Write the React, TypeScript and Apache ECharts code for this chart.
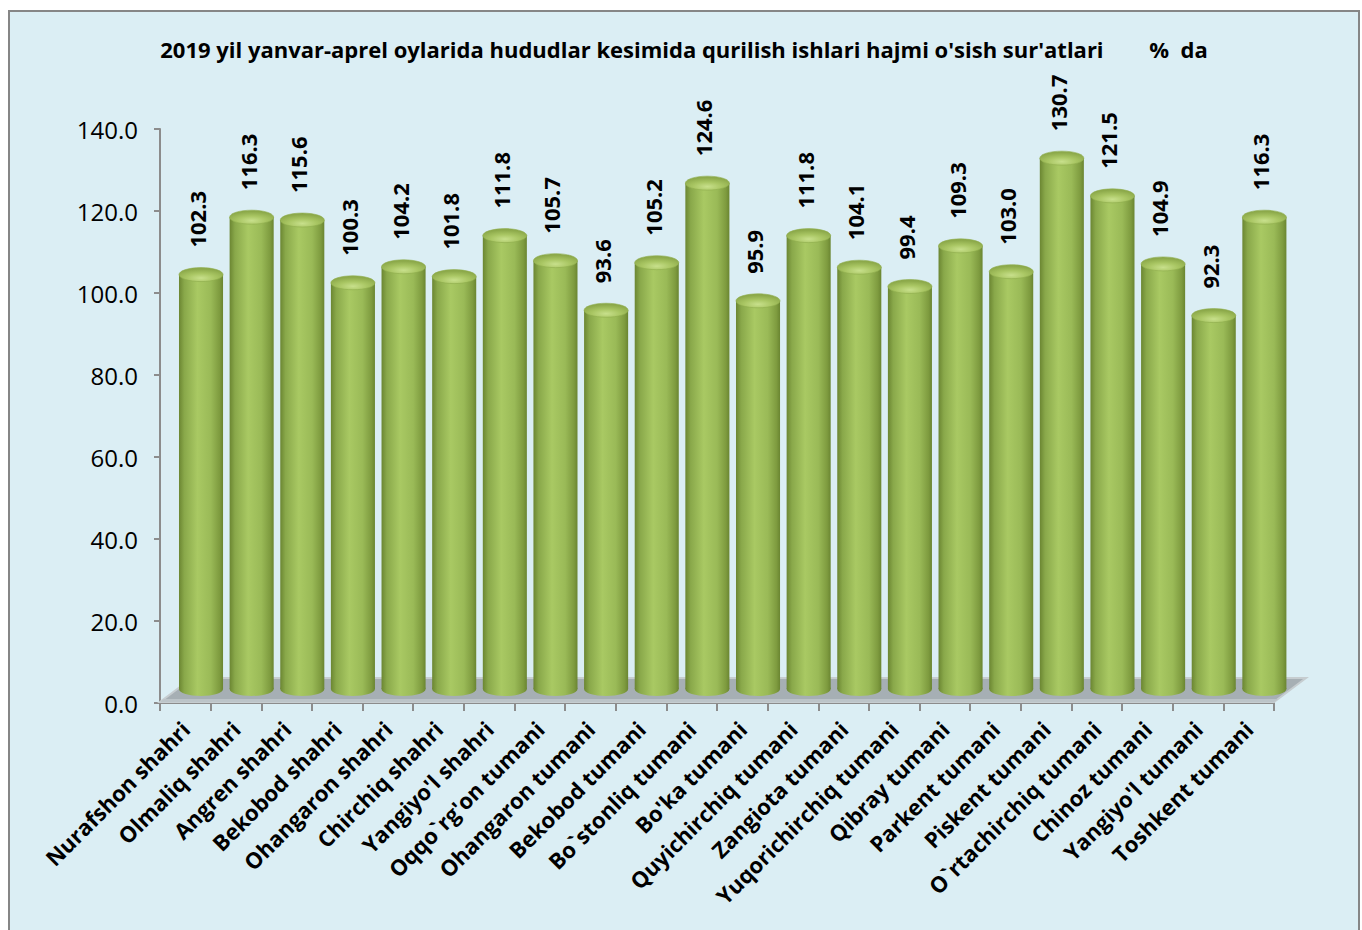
import React, { useEffect, useRef } from "react";
import * as echarts from "echarts";

const categories = [
  "Nurafshon shahri",
  "Olmaliq shahri",
  "Angren shahri",
  "Bekobod shahri",
  "Ohangaron shahri",
  "Chirchiq shahri",
  "Yangiyo'l shahri",
  "Oqqo`rg'on tumani",
  "Ohangaron tumani",
  "Bekobod tumani",
  "Bo`stonliq tumani",
  "Bo'ka tumani",
  "Quyichirchiq tumani",
  "Zangiota tumani",
  "Yuqorichirchiq tumani",
  "Qibray tumani",
  "Parkent tumani",
  "Piskent tumani",
  "O`rtachirchiq tumani",
  "Chinoz tumani",
  "Yangiyo'l tumani",
  "Toshkent tumani",
];

const values = [
  102.3, 116.3, 115.6, 100.3, 104.2, 101.8, 111.8, 105.7, 93.6, 105.2, 124.6,
  95.9, 111.8, 104.1, 99.4, 109.3, 103.0, 130.7, 121.5, 104.9, 92.3, 116.3,
];

const titleText =
  "2019 yil yanvar-aprel oylarida hududlar kesimida qurilish ishlari hajmi o'sish sur'atlari        %  da";

const FONT = "'Open Sans', 'Liberation Sans', sans-serif";

export default function App() {
  const ref = useRef<HTMLDivElement>(null);

  useEffect(() => {
    if (!ref.current) return;
    const chart = echarts.init(ref.current, null, { renderer: "svg" });

    const bodyGrad = () =>
      new echarts.graphic.LinearGradient(0, 0, 1, 0, [
        { offset: 0, color: "#6B8632" },
        { offset: 0.12, color: "#89A84A" },
        { offset: 0.42, color: "#A9C963" },
        { offset: 0.72, color: "#9ABA57" },
        { offset: 0.92, color: "#7E9B3F" },
        { offset: 1, color: "#6A8531" },
      ]);
    const topGrad = () =>
      new echarts.graphic.RadialGradient(0.5, 0.75, 0.65, [
        { offset: 0, color: "#C8E08C" },
        { offset: 0.5, color: "#A9C663" },
        { offset: 1, color: "#8CA94A" },
      ]);

    const N = categories.length;

    chart.setOption({
      animation: false,
      backgroundColor: "transparent",
      title: {
        text: titleText,
        left: "center",
        top: 21,
        textStyle: {
          fontFamily: FONT,
          fontWeight: "bold",
          fontSize: 22,
          color: "#000",
        },
      },
      grid: { left: 150, top: 117, width: 1114, height: 574, containLabel: false },
      xAxis: {
        type: "category",
        data: categories,
        axisLine: { show: true, lineStyle: { color: "#8C8C8C", width: 2 } },
        axisTick: { show: true, length: 8, lineStyle: { color: "#8C8C8C", width: 2 } },
        axisLabel: {
          rotate: 45,
          interval: 0,
          margin: 22,
          fontFamily: FONT,
          fontWeight: "bold",
          fontSize: 22,
          color: "#000",
        },
        splitLine: { show: false },
      },
      yAxis: {
        type: "value",
        min: 0,
        max: 140,
        interval: 20,
        axisLine: { show: true, lineStyle: { color: "#8C8C8C", width: 2 } },
        axisTick: { show: true, inside: false, length: 6, lineStyle: { color: "#8C8C8C", width: 2 } },
        axisLabel: {
          formatter: (v: number) => v.toFixed(1),
          margin: 22,
          fontFamily: FONT,
          fontSize: 24,
          color: "#000",
        },
        splitLine: { show: false },
      },
      series: [
        {
          type: "custom",
          name: "floor",
          z: 1,
          silent: true,
          data: [[0, 0]],
          renderItem: (params: any, api: any) => {
            const bw = api.size([1, 0])[0];
            const p0 = api.coord([0, 0]);
            const pN = api.coord([N - 1, 0]);
            const left = p0[0] - bw / 2;
            const right = pN[0] + bw / 2;
            const y = p0[1] - 1;
            const dx = 32;
            const dy = 24;
            return {
              type: "group",
              children: [
                {
                  type: "polygon",
                  shape: {
                    points: [
                      [left, y],
                      [right, y],
                      [right + dx, y - dy],
                      [left + dx, y - dy],
                    ],
                  },
                  style: { fill: "#A6AFB4", stroke: "#C6CDD0", lineWidth: 2 },
                },
                {
                  type: "polygon",
                  shape: {
                    points: [
                      [left, y],
                      [right, y],
                      [right + 4, y - 3],
                      [left + 4, y - 3],
                    ],
                  },
                  style: { fill: "#BCC4C8" },
                },
              ],
            };
          },
        },
        {
          type: "custom",
          name: "bars",
          z: 3,
          data: values.map((v, i) => [i, v]),
          renderItem: (params: any, api: any) => {
            const i = api.value(0);
            const v = api.value(1);
            const top = api.coord([i, v]);
            const base = api.coord([i, 0]);
            const bw = api.size([1, 0])[0];
            const cx = top[0] + bw * 0.31;
            const rx = bw * 0.435;
            const ry = 7;
            const topY = top[1] - 9;
            const botY = base[1] - 14;
            return {
              type: "group",
              children: [
                {
                  type: "ellipse",
                  shape: { cx, cy: botY, rx, ry },
                  style: { fill: bodyGrad() },
                },
                {
                  type: "rect",
                  shape: { x: cx - rx, y: topY, width: rx * 2, height: botY - topY },
                  style: { fill: bodyGrad() },
                },
                {
                  type: "ellipse",
                  shape: { cx, cy: topY, rx, ry },
                  style: { fill: topGrad(), stroke: "#8FAC4D", lineWidth: 0.6 },
                },
                {
                  type: "text",
                  x: cx - 4,
                  y: topY - ry - 20,
                  rotation: Math.PI / 2,
                  style: {
                    text: v.toFixed(1),
                    fontFamily: FONT,
                    fontWeight: "bold",
                    fontSize: 22,
                    fill: "#000",
                    align: "left",
                    verticalAlign: "middle",
                  },
                },
              ],
            };
          },
        },
      ],
    });

    return () => chart.dispose();
  }, []);

  return (
    <div
      style={{
        position: "absolute",
        left: 8,
        top: 10,
        width: 1352,
        height: 930,
        border: "2px solid #868686",
        boxSizing: "border-box",
        background: "#DBEEF4",
      }}
    >
      <div ref={ref} style={{ width: 1348, height: 926 }} />
    </div>
  );
}
